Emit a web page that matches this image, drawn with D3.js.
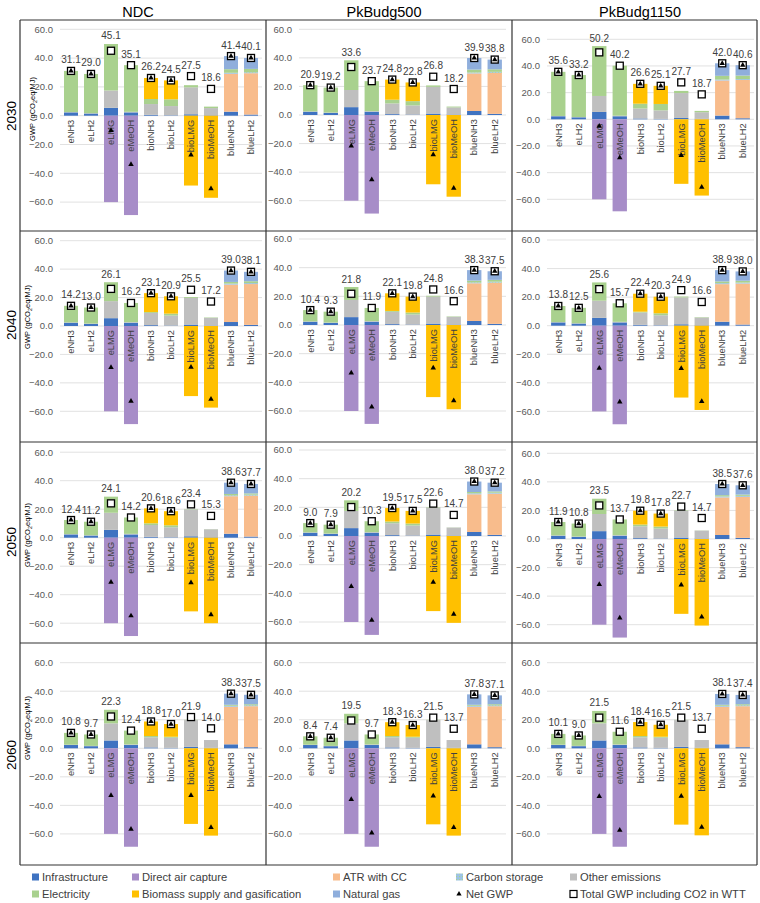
<!DOCTYPE html>
<html><head><meta charset="utf-8">
<script src="https://cdn.jsdelivr.net/npm/d3@7"></script>
<style>body{margin:0;background:#fff}svg{display:block}</style>
</head><body><svg id="c" width="760" height="903"></svg>
<script>
// ---------------- DATA ----------------
const scenarios = ["NDC", "PkBudg500", "PkBudg1150"];
const years = ["2030", "2040", "2050", "2060"];
const fuels = ["eNH3","eLH2","eLMG","eMeOH","bioNH3","bioLH2","bioLMG","bioMeOH","blueNH3","blueLH2"];
const yTicks = [-60, -40, -20, 0, 20, 40, 60];

// components identical in every panel
const infrastructure   = [2.3, 1.5, 5.5, 2.3, 0.6, 0.3, 1.0, 0.3, 2.8, 0.8];
const directAirCapture = [0, 0, -60, -69, 0, 0, 0, 0, 0, 0];
const atrWithCC        = [0, 0, 0, 0, 0, 0, 0, 0, 26.3, 28.7];
const carbonStorage    = [0, 0, 0, 0, 0, 0, 0, 0, 0.7, 0.7];
// other emissions, one row per year
const otherEmissions = [
  [0.2, 0.2, 12.0, 0.4, 7.5, 6.4, 18.7, 5.0, 0, 0],
  [0.2, 0.2, 12.0, 0.4, 8.6, 7.0, 18.8, 5.4, 0, 0],
  [0.2, 0.2, 12.0, 0.4, 8.3, 7.0, 18.9, 5.6, 0, 0],
  [0.2, 0.2, 12.0, 0.4, 7.1, 7.1, 18.8, 5.5, 0, 0]
];
// panels in order: 2030 NDC, 2030 PkBudg500, 2030 PkBudg1150, 2040 NDC, ...
const electricity = [
  [28.6, 27.3, 32.3, 32.4, 3.5, 4.7, 1.5, 1.0, 2.5, 2.3],
  [18.4, 17.5, 20.8, 21.0, 2.6, 3.0, 1.0, 0.6, 2.0, 1.8],
  [33.1, 31.5, 37.4, 37.5, 3.6, 4.8, 1.6, 1.0, 2.8, 2.6],
  [11.7, 11.3, 13.3, 13.5, 0.6, 1.4, 0.6, 0.3, 1.2, 1.3],
  [7.9, 7.6, 9.0, 9.2, 0.6, 1.4, 0.6, 0.3, 1.2, 1.3],
  [11.3, 10.8, 12.8, 13.0, 0.6, 1.4, 0.6, 0.3, 1.2, 1.3],
  [9.9, 9.5, 11.3, 11.5, 1.2, 1.4, 0.3, 0.1, 0.9, 0.9],
  [6.5, 6.2, 7.4, 7.6, 1.2, 1.4, 0.3, 0.1, 0.9, 0.9],
  [9.4, 9.1, 10.7, 11.0, 1.2, 1.4, 0.3, 0.1, 0.9, 0.9],
  [8.3, 8.0, 9.5, 9.7, 0.9, 0.7, 0.2, 0.0, 0.7, 0.7],
  [5.9, 5.7, 6.7, 7.0, 0.9, 0.7, 0.2, 0.0, 0.7, 0.7],
  [7.6, 7.3, 8.7, 8.9, 0.9, 0.7, 0.2, 0.0, 0.7, 0.7]
];
const biomass = [
  [0, 0, 0, 0, 14.6, 13.1, -48.5, -57.0, 0, 0],
  [0, 0, 0, 0, 14.1, 13.1, -48.5, -57.2, 0, 0],
  [0, 0, 0, 0, 14.9, 13.6, -48.4, -57.2, 0, 0],
  [0, 0, 0, 0, 13.3, 12.2, -49.3, -57.4, 0, 0],
  [0, 0, 0, 0, 12.3, 11.1, -50.3, -58.8, 0, 0],
  [0, 0, 0, 0, 12.6, 11.6, -50.3, -59.0, 0, 0],
  [0, 0, 0, 0, 10.5, 9.9, -51.7, -60.0, 0, 0],
  [0, 0, 0, 0, 9.4, 8.8, -52.4, -60.6, 0, 0],
  [0, 0, 0, 0, 9.7, 9.1, -52.4, -60.6, 0, 0],
  [0, 0, 0, 0, 10.2, 8.9, -53.0, -61.2, 0, 0],
  [0, 0, 0, 0, 9.7, 8.2, -53.3, -61.2, 0, 0],
  [0, 0, 0, 0, 9.8, 8.4, -53.5, -61.0, 0, 0]
];
const naturalGas = [
  [0, 0, 0, 0, 0, 0, 0, 0, 9.1, 7.6],
  [0, 0, 0, 0, 0, 0, 0, 0, 8.1, 6.8],
  [0, 0, 0, 0, 0, 0, 0, 0, 9.4, 7.8],
  [0, 0, 0, 0, 0, 0, 0, 0, 8.0, 6.6],
  [0, 0, 0, 0, 0, 0, 0, 0, 7.3, 6.0],
  [0, 0, 0, 0, 0, 0, 0, 0, 7.9, 6.5],
  [0, 0, 0, 0, 0, 0, 0, 0, 7.9, 6.6],
  [0, 0, 0, 0, 0, 0, 0, 0, 7.3, 6.1],
  [0, 0, 0, 0, 0, 0, 0, 0, 7.8, 6.5],
  [0, 0, 0, 0, 0, 0, 0, 0, 7.8, 6.6],
  [0, 0, 0, 0, 0, 0, 0, 0, 7.3, 6.2],
  [0, 0, 0, 0, 0, 0, 0, 0, 7.6, 6.5]
];
// Total GWP including CO2 in WTT (also the data labels)
const totalGWP = [
  [31.1, 29.0, 45.1, 35.1, 26.2, 24.5, 27.5, 18.6, 41.4, 40.1],
  [20.9, 19.2, 33.6, 23.7, 24.8, 22.8, 26.8, 18.2, 39.9, 38.8],
  [35.6, 33.2, 50.2, 40.2, 26.6, 25.1, 27.7, 18.7, 42.0, 40.6],
  [14.2, 13.0, 26.1, 16.2, 23.1, 20.9, 25.5, 17.2, 39.0, 38.1],
  [10.4, 9.3, 21.8, 11.9, 22.1, 19.8, 24.8, 16.6, 38.3, 37.5],
  [13.8, 12.5, 25.6, 15.7, 22.4, 20.3, 24.9, 16.6, 38.9, 38.0],
  [12.4, 11.2, 24.1, 14.2, 20.6, 18.6, 23.4, 15.3, 38.6, 37.7],
  [9.0, 7.9, 20.2, 10.3, 19.5, 17.5, 22.6, 14.7, 38.0, 37.2],
  [11.9, 10.8, 23.5, 13.7, 19.8, 17.8, 22.7, 14.7, 38.5, 37.6],
  [10.8, 9.7, 22.3, 12.4, 18.8, 17.0, 21.9, 14.0, 38.3, 37.5],
  [8.4, 7.4, 19.5, 9.7, 18.3, 16.3, 21.5, 13.7, 37.8, 37.1],
  [10.1, 9.0, 21.5, 11.6, 18.4, 16.5, 21.5, 13.7, 38.1, 37.4]
];

const seriesKeys = ["infra","dac","atr","storage","other","elec","biomass","gas"];
const seriesNames = {infra:"Infrastructure", dac:"Direct air capture", atr:"ATR with CC",
  storage:"Carbon storage", other:"Other emissions", elec:"Electricity",
  biomass:"Biomass supply and gasification", gas:"Natural gas"};
const colors = {infra:"#3F73C1", dac:"#A78DC8", atr:"#F8BC8C", storage:"url(#csPat)",
  other:"#BFBFBF", elec:"#A9D18E", biomass:"#FFC000", gas:"#8FAEDC"};

// ---------------- LAYOUT ----------------
const colEdges = [20, 266, 512, 757];
const rowEdges = [20, 231, 442, 643, 865];
const plotX = [[60, 262], [299, 506], [547, 754]];
const zeroY = [[115.7, 115, 119.3], [326, 325, 325.7], [537.7, 536, 539], [748.3, 748.3, 748.3]];
const topY  = [[29.3, 29.3, 39.3], [240.7, 239, 240], [452.2, 450, 453.3], [662.7, 662.7, 662.7]];
const yTitleX = [32, 27, 27, 27];
const yTitleY = [109, 317, 535, 728];
const rowLabelY = [116, 325, 542, 755];
const colTitleX = [138, 384, 640];

const svg = d3.select("#c");
const defs = svg.append("defs");
const pat = defs.append("pattern").attr("id","csPat").attr("width",3).attr("height",3)
  .attr("patternUnits","userSpaceOnUse");
pat.append("rect").attr("width",3).attr("height",3).attr("fill","#9DC3E6");
pat.append("rect").attr("width",1.2).attr("height",1.2).attr("fill","#A9D18E");

const FONT = "'Liberation Sans', Arial, sans-serif";
const NARROW = "'Liberation Sans Narrow', 'Liberation Sans', Arial, sans-serif";

// detect narrow font availability
const probe = svg.append("text").attr("font-size", 20).attr("font-family","'Liberation Sans Narrow', monospace").text("blueNH3 abcdefg");
const probe2 = svg.append("text").attr("font-size", 20).attr("font-family","monospace").text("blueNH3 abcdefg");
const narrowOK = Math.abs(probe.node().getComputedTextLength() - probe2.node().getComputedTextLength()) > 1;
probe.remove(); probe2.remove();
const catFont = narrowOK ? NARROW : FONT;
const catSize = narrowOK ? 11 : 9.3;
const valFont = narrowOK ? NARROW : FONT;
const valSize = narrowOK ? 11.3 : 10;

years.forEach((yr, r) => {
  scenarios.forEach((sc, c) => {
    const p = r * 3 + c;
    const clipId = "clip" + p;
    defs.append("clipPath").attr("id", clipId).append("rect")
      .attr("x", colEdges[c]).attr("y", rowEdges[r])
      .attr("width", colEdges[c+1] - colEdges[c]).attr("height", rowEdges[r+1] - rowEdges[r]);
    const g = svg.append("g").attr("clip-path", `url(#${clipId})`);

    const rows = fuels.map((f, i) => ({
      fuel: f,
      infra: infrastructure[i], dac: directAirCapture[i], atr: atrWithCC[i],
      storage: carbonStorage[i], other: otherEmissions[r][i], elec: electricity[p][i],
      biomass: biomass[p][i], gas: naturalGas[p][i], total: totalGWP[p][i]
    }));
    rows.forEach(d => {
      d.net = seriesKeys.reduce((s, k) => s + d[k], 0);
      d.pos = seriesKeys.reduce((s, k) => s + Math.max(0, d[k]), 0);
    });

    const unit = (zeroY[r][c] - topY[r][c]) / 60;
    const y = d3.scaleLinear().domain([-80, 60]).range([zeroY[r][c] + 80 * unit, topY[r][c]]);
    const x = d3.scaleBand().domain(fuels).range(plotX[c]).paddingInner(0.3).paddingOuter(0.2);

    // gridlines
    g.append("g").selectAll("line").data(yTicks).join("line")
      .attr("x1", plotX[c][0]).attr("x2", plotX[c][1])
      .attr("y1", d => y(d)).attr("y2", d => y(d))
      .attr("stroke", "#D9D9D9").attr("stroke-width", 0.8);

    // y tick labels
    g.append("g").selectAll("text").data(yTicks).join("text")
      .attr("x", plotX[c][0] - 7).attr("y", d => y(d)).attr("dy", "0.35em")
      .attr("text-anchor", "end").attr("font-family", FONT).attr("font-size", 9.5)
      .attr("fill", "#595959").text(d => d3.format(".1f")(d));

    // stacked bars
    const stack = d3.stack().keys(seriesKeys).offset(d3.stackOffsetDiverging);
    const layers = stack(rows);
    g.append("g").selectAll("g").data(layers).join("g")
      .attr("fill", d => colors[d.key])
      .selectAll("rect").data(d => d).join("rect")
      .attr("x", d => x(d.data.fuel)).attr("width", x.bandwidth())
      .attr("y", d => y(Math.max(d[0], d[1])))
      .attr("height", d => Math.abs(y(d[0]) - y(d[1])));

    // category labels
    g.append("g").selectAll("text").data(rows).join("text")
      .attr("transform", d => `translate(${x(d.fuel) + x.bandwidth()/2},${y(0) + 4}) rotate(-90)`)
      .attr("dy", "0.35em").attr("text-anchor", "end")
      .attr("font-family", catFont).attr("font-size", catSize).attr("fill", "#404040")
      .text(d => d.fuel);

    // total GWP squares
    const sq = 7;
    g.append("g").selectAll("rect").data(rows).join("rect")
      .attr("x", d => x(d.fuel) + x.bandwidth()/2 - sq/2).attr("y", d => y(d.total) - sq/2)
      .attr("width", sq).attr("height", sq)
      .attr("fill", "#fff").attr("stroke", "#000").attr("stroke-width", 1.3);

    // net GWP triangles
    g.append("g").selectAll("path").data(rows).join("path")
      .attr("d", d3.symbol(d3.symbolTriangle, 13))
      .attr("transform", d => `translate(${x(d.fuel) + x.bandwidth()/2},${y(d.net)})`)
      .attr("fill", "#000");

    // value labels
    g.append("g").selectAll("text").data(rows).join("text")
      .attr("x", d => x(d.fuel) + x.bandwidth()/2)
      .attr("y", d => Math.min(y(d.total) - 11, y(d.pos) - 8))
      .attr("dy", "0.35em").attr("text-anchor", "middle")
      .attr("font-family", valFont).attr("font-size", valSize).attr("fill", "#404040")
      .text(d => d3.format(".1f")(d.total));

    // y-axis title (first column)
    if (c === 0) {
      const t = svg.append("text")
        .attr("transform", `translate(${yTitleX[r]},${yTitleY[r]}) rotate(-90)`)
        .attr("text-anchor", "middle").attr("dy", "0.35em")
        .attr("font-family", FONT).attr("font-size", 7.5).attr("fill", "#000");
      t.append("tspan").text("GWP (gCO");
      t.append("tspan").attr("font-size", 5.5).attr("dy", 2).text("2");
      t.append("tspan").attr("dy", -2).text("eq/MJ)");
    }
  });
});

// panel borders
const border = svg.append("g").attr("stroke", "#333").attr("stroke-width", 1.2);
colEdges.forEach(cx => border.append("line").attr("x1", cx).attr("x2", cx)
  .attr("y1", rowEdges[0]).attr("y2", rowEdges[rowEdges.length-1]));
rowEdges.forEach(ry => border.append("line").attr("y1", ry).attr("y2", ry)
  .attr("x1", colEdges[0]).attr("x2", colEdges[colEdges.length-1]));

// column titles
svg.append("g").selectAll("text").data(scenarios).join("text")
  .attr("x", (d, i) => colTitleX[i]).attr("y", 12).attr("dy", "0.35em")
  .attr("text-anchor", "middle").attr("font-family", FONT).attr("font-size", 14.5)
  .attr("fill", "#000").text(d => d);

// row labels
svg.append("g").selectAll("text").data(years).join("text")
  .attr("transform", (d, i) => `translate(11,${rowLabelY[i]}) rotate(-90)`)
  .attr("dy", "0.35em").attr("text-anchor", "middle")
  .attr("font-family", FONT).attr("font-size", 13.5).attr("fill", "#000").text(d => d);

// legend
const legendItems = [
  {key:"infra", row:0, x:32}, {key:"dac", row:0, x:132}, {key:"atr", row:0, x:333},
  {key:"storage", row:0, x:456}, {key:"other", row:0, x:570},
  {key:"elec", row:1, x:32}, {key:"biomass", row:1, x:132}, {key:"gas", row:1, x:333},
  {key:"net", row:1, x:456}, {key:"total", row:1, x:570}
];
const legendRowY = [877, 894];
const lg = svg.append("g");
legendItems.forEach(it => {
  const cy = legendRowY[it.row];
  if (it.key === "net") {
    lg.append("path").attr("d", d3.symbol(d3.symbolTriangle, 12))
      .attr("transform", `translate(${it.x + 3},${cy})`).attr("fill", "#000");
  } else if (it.key === "total") {
    lg.append("rect").attr("x", it.x).attr("y", cy - 3.5).attr("width", 7).attr("height", 7)
      .attr("fill", "#fff").attr("stroke", "#000").attr("stroke-width", 1.2);
  } else {
    lg.append("rect").attr("x", it.x).attr("y", cy - 3.5).attr("width", 7).attr("height", 7)
      .attr("fill", colors[it.key]);
  }
  const label = it.key === "net" ? "Net GWP" : it.key === "total" ? "Total GWP including CO2 in WTT" : seriesNames[it.key];
  lg.append("text").attr("x", it.x + 10).attr("y", cy).attr("dy", "0.35em")
    .attr("font-family", FONT).attr("font-size", 11.2).attr("fill", "#404040").text(label);
});
</script>
</body></html>
